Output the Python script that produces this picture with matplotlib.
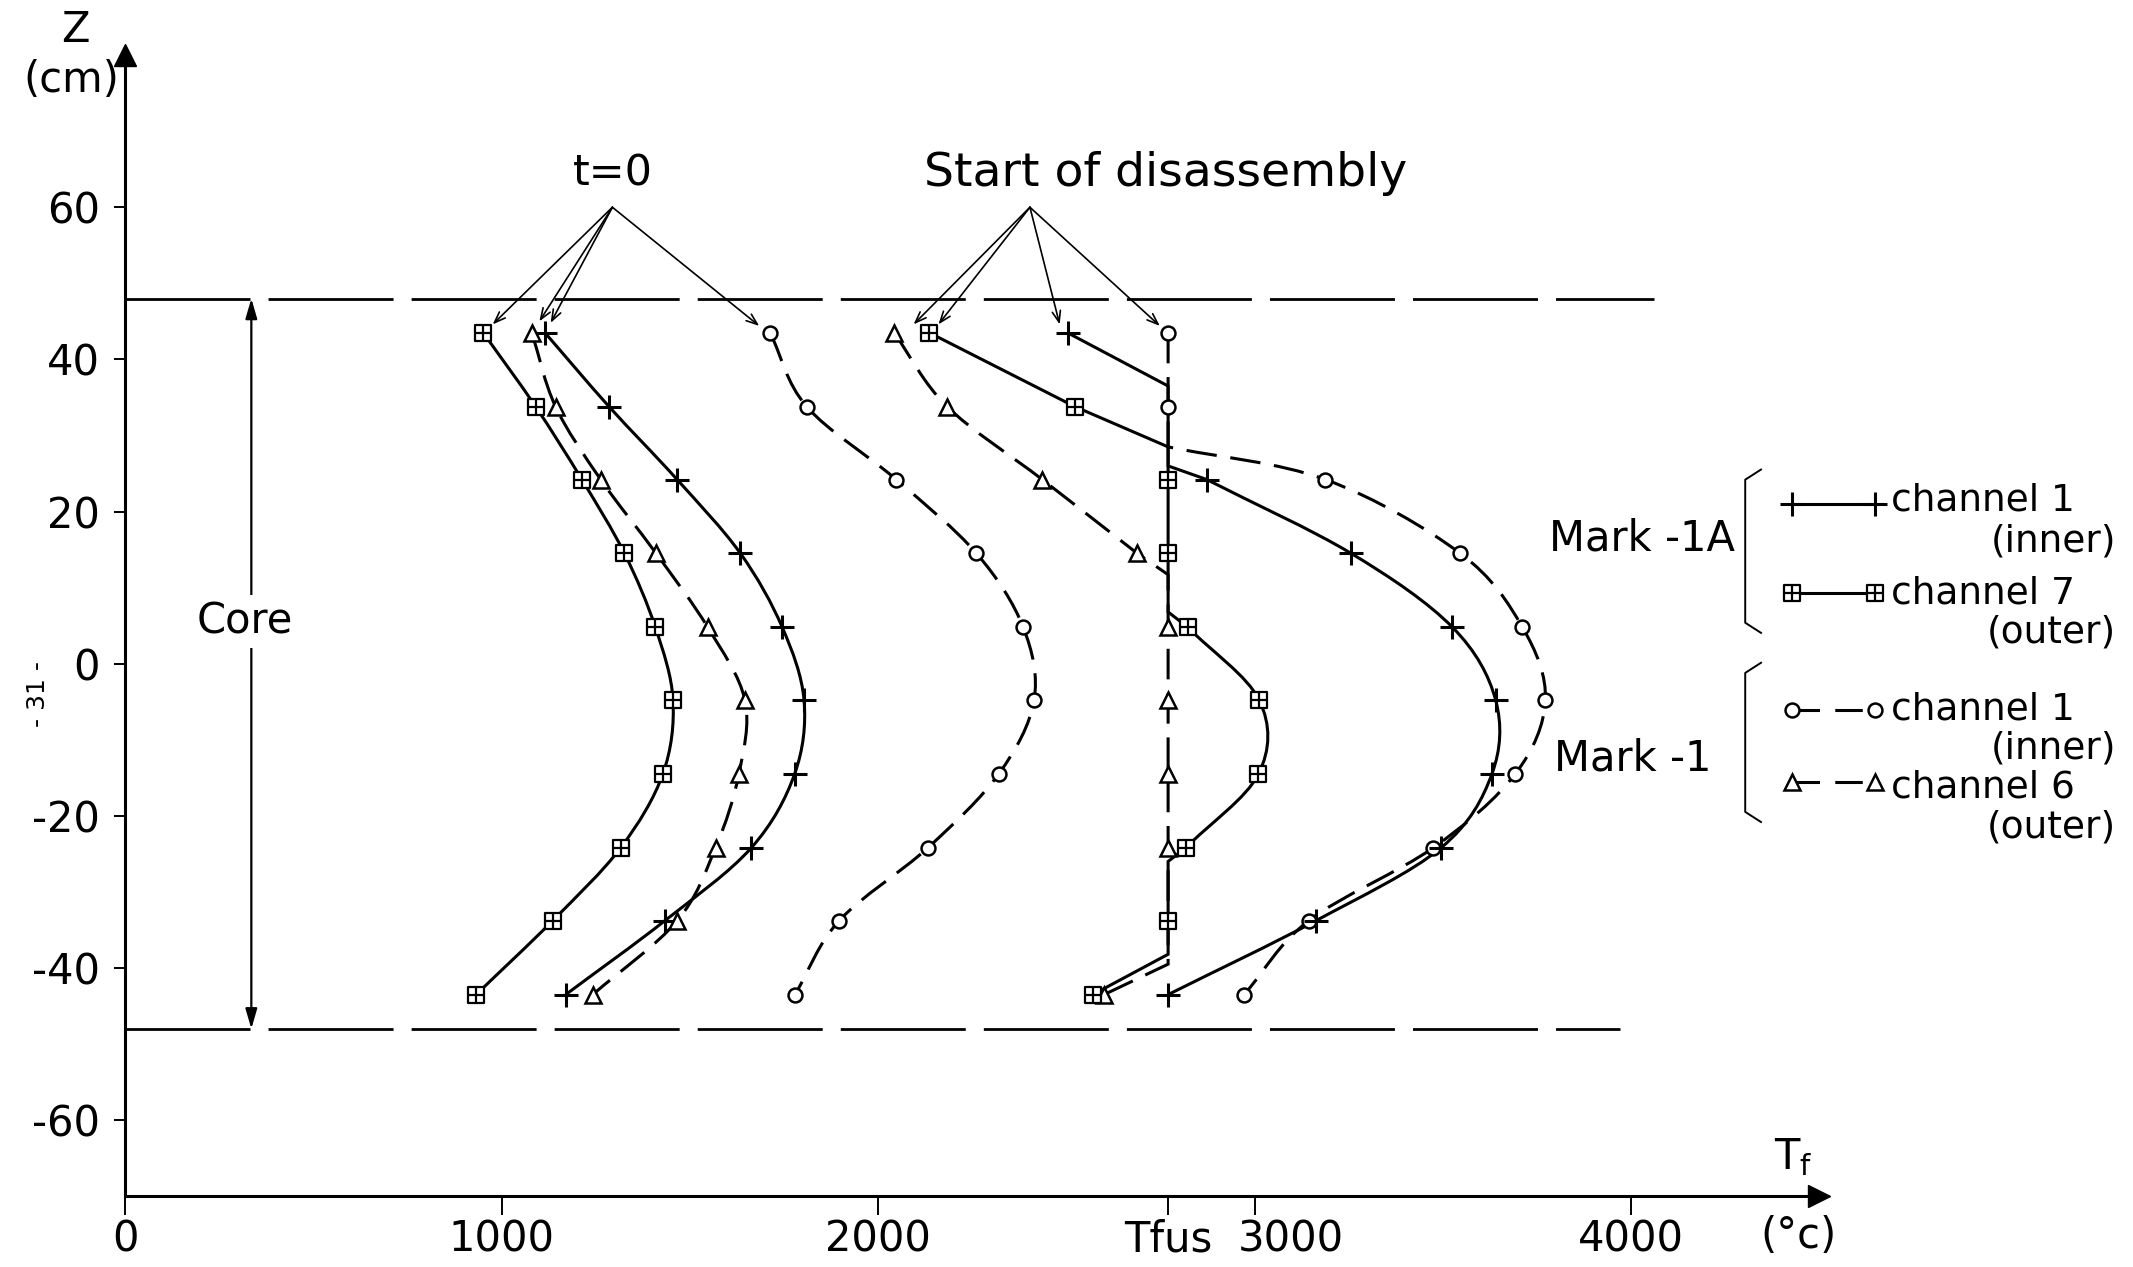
import matplotlib
matplotlib.use("Agg")
import matplotlib.pyplot as plt
import matplotlib.transforms as mtransforms
from matplotlib.path import Path
from matplotlib.patches import PathPatch
from matplotlib.lines import Line2D

plt.rcParams["font.family"] = ["DejaVu Sans"]

# fuel melting temperature (deg C)
TFUS = 2770

# axial measuring levels (cm)
z_levels = [43.5, 33.8, 24.2, 14.5, 4.8, -4.8, -14.5, -24.2, -33.8, -43.5]

# t = 0 profiles (deg C)
t0_mk1a_ch1 = [1115, 1285, 1466, 1634, 1745, 1803, 1778, 1663, 1433, 1170]
t0_mk1a_ch7 = [951, 1090, 1213, 1326, 1408, 1455, 1428, 1316, 1135, 932]
t0_mk1_ch1 = [1713, 1810, 2048, 2261, 2385, 2414, 2320, 2132, 1896, 1779]
t0_mk1_ch6 = [1080, 1143, 1263, 1410, 1547, 1646, 1630, 1568, 1466, 1242]

# start of disassembly: profiles follow Tfus between measuring levels
dis_mk1a_ch1_t = [2503, TFUS, TFUS, 2873, 3256, 3525, 3640, 3630, 3495, 3162, TFUS]
dis_mk1a_ch1_z = [43.5, 36.5, 26.0, 24.2, 14.5, 4.8, -4.8, -14.5, -24.2, -33.8, -43.5]
dis_mk1a_ch1_mk = [0, 3, 4, 5, 6, 7, 8, 9, 10]

dis_mk1a_ch7_t = [2136, 2522, TFUS, TFUS, TFUS, TFUS, 2822, 3012, 3010, 2817,
                  TFUS, TFUS, TFUS, 2570]
dis_mk1a_ch7_z = [43.5, 33.8, 28.5, 24.2, 14.5, 6.8, 4.8, -4.8, -14.5, -24.2,
                  -26.0, -33.8, -38.2, -43.5]
dis_mk1a_ch7_mk = [0, 1, 3, 4, 6, 7, 8, 9, 11, 13]

dis_mk1_ch1_t = [TFUS, TFUS, TFUS, 3188, 3546, 3711, 3772, 3692, 3474, 3143, 2972]
dis_mk1_ch1_z = [43.5, 33.8, 28.5, 24.2, 14.5, 4.8, -4.8, -14.5, -24.2, -33.8, -43.5]
dis_mk1_ch1_mk = [0, 1, 3, 4, 5, 6, 7, 8, 9, 10]

dis_mk1_ch6_t = [2042, 2183, 2436, 2688, TFUS, TFUS, TFUS, TFUS, TFUS, TFUS, 2600]
dis_mk1_ch6_z = [43.5, 33.8, 24.2, 14.5, 11.7, 4.8, -4.8, -14.5, -24.2, -39.5, -43.5]
dis_mk1_ch6_mk = [0, 1, 2, 3, 5, 6, 7, 8, 10]

core_top, core_bot = 48, -48

x_ticks = [0, 1000, 2000, TFUS, 3000, 4000]
x_ticklabels = ["0", "1000", "2000", "Tfus", "3000", "4000"]
y_ticks = [60, 40, 20, 0, -20, -40, -60]
y_ticklabels = ["60", "40", "20", "0", "-20", "-40", "-60"]


def curve_path(xs, ys, straight=()):
    """Path through the points, drawn as a smooth Bezier curve except on the
    segments listed in `straight` (segment i joins point i and i+1)."""
    n = len(xs)
    pts = list(zip(xs, ys))

    def tangent(i):
        smooth_before = i > 0 and (i - 1) not in straight
        smooth_after = i < n - 1 and i not in straight
        if smooth_before and smooth_after:
            return ((pts[i + 1][0] - pts[i - 1][0]) / 2, (pts[i + 1][1] - pts[i - 1][1]) / 2)
        if smooth_after:
            return (pts[i + 1][0] - pts[i][0], pts[i + 1][1] - pts[i][1])
        return (pts[i][0] - pts[i - 1][0], pts[i][1] - pts[i - 1][1])

    verts = [pts[0]]
    codes = [Path.MOVETO]
    for i in range(n - 1):
        if i in straight:
            verts.append(pts[i + 1])
            codes.append(Path.LINETO)
            continue
        m0, m1 = tangent(i), tangent(i + 1)
        verts += [(pts[i][0] + m0[0] / 3, pts[i][1] + m0[1] / 3),
                  (pts[i + 1][0] - m1[0] / 3, pts[i + 1][1] - m1[1] / 3),
                  pts[i + 1]]
        codes += [Path.CURVE4] * 3
    return Path(verts, codes)


# square with a cross inside
sq_path = Path(
    [(-1, -1), (1, -1), (1, 1), (-1, 1), (-1, -1), (0, -1), (0, 1), (-1, 0), (1, 0)],
    [Path.MOVETO, Path.LINETO, Path.LINETO, Path.LINETO, Path.CLOSEPOLY,
     Path.MOVETO, Path.LINETO, Path.MOVETO, Path.LINETO],
)

LW = 2.2
DASH = (10, 4.5)
line_st = {
    "mk1a_ch1": dict(lw=LW, ls="-"),
    "mk1a_ch7": dict(lw=LW, ls="-"),
    "mk1_ch1": dict(lw=LW, ls=(0, DASH)),
    "mk1_ch6": dict(lw=LW, ls=(0, DASH)),
}
mark_st = {
    "mk1a_ch1": dict(marker="+", ms=17, mew=2.2),
    "mk1a_ch7": dict(marker=sq_path, ms=11, mew=1.6, mfc="white"),
    "mk1_ch1": dict(marker="o", ms=10, mew=1.8, mfc="white"),
    "mk1_ch6": dict(marker="^", ms=12, mew=1.8, mfc="white"),
}

fig = plt.figure(figsize=(21.33, 12.67), dpi=100)
ax = fig.add_axes([0.0587, 0.0559, 0.7943, 0.9006])
ax.set_xlim(0, 4500)
ax.set_ylim(-70, 80)


def draw_profile(name, ts, zs, mk=None, straight=()):
    ax.add_patch(PathPatch(curve_path(ts, zs, straight), fill=False, ec="k",
                           capstyle="butt", **line_st[name]))
    if mk is None:
        mk = range(len(ts))
    ax.plot([ts[i] for i in mk], [zs[i] for i in mk], ls="none", color="k",
            **mark_st[name])


# t = 0 curves
draw_profile("mk1a_ch1", t0_mk1a_ch1, z_levels)
draw_profile("mk1a_ch7", t0_mk1a_ch7, z_levels)
draw_profile("mk1_ch1", t0_mk1_ch1, z_levels)
draw_profile("mk1_ch6", t0_mk1_ch6, z_levels)

# start of disassembly curves
draw_profile("mk1_ch6", dis_mk1_ch6_t, dis_mk1_ch6_z, dis_mk1_ch6_mk,
             straight=(3, 4, 5, 6, 7, 8, 9))
draw_profile("mk1_ch1", dis_mk1_ch1_t, dis_mk1_ch1_z, dis_mk1_ch1_mk,
             straight=(0, 1))
draw_profile("mk1a_ch1", dis_mk1a_ch1_t, dis_mk1a_ch1_z, dis_mk1a_ch1_mk,
             straight=(0, 1, 2))
draw_profile("mk1a_ch7", dis_mk1a_ch7_t, dis_mk1a_ch7_z, dis_mk1a_ch7_mk,
             straight=(0, 1, 2, 3, 4, 5, 9, 10, 11, 12))

# core boundaries
ax.plot([0, 4060], [core_top, core_top], color="k", lw=2.0, dashes=(45, 6.5))
ax.plot([0, 3970], [core_bot, core_bot], color="k", lw=2.0, dashes=(45, 6.5))
ax.annotate("", xy=(335, core_top), xytext=(335, core_bot),
            arrowprops=dict(arrowstyle="<|-|>,head_length=1.2,head_width=0.35",
                            color="k", lw=1.6, shrinkA=0, shrinkB=0))
ax.text(318, 5.5, "Core", fontsize=30, ha="center", va="center",
        bbox=dict(fc="white", ec="none", pad=4))

# pointer arrows to the first point of each profile
arrow_kw = dict(arrowstyle="->,head_length=0.8,head_width=0.3", color="k", lw=1.2,
                shrinkA=0, shrinkB=0)
t0_src = (1294, 60)
for tip in [(976, 44.6), (1100, 45.0), (1130, 44.8), (1684, 44.4)]:
    ax.annotate("", xy=tip, xytext=t0_src, arrowprops=arrow_kw)
dis_src = (2403, 60)
for tip in [(2094, 44.6), (2160, 44.6), (2482, 44.6), (2748, 44.4)]:
    ax.annotate("", xy=tip, xytext=dis_src, arrowprops=arrow_kw)
ax.text(1294, 64.5, "t=0", fontsize=31, ha="center", va="center")
ax.text(2764, 64.5, "Start of disassembly", fontsize=34, ha="center", va="center")

# axes with arrow heads
for s in ["top", "right"]:
    ax.spines[s].set_visible(False)
for s in ["left", "bottom"]:
    ax.spines[s].set_linewidth(2.2)
ax.plot(0, 1, marker="^", ms=16, color="k", transform=ax.transAxes, clip_on=False)
ax.plot(1, 0, marker=">", ms=16, color="k", transform=ax.transAxes, clip_on=False)

ax.set_xticks(x_ticks)
ax.set_xticklabels(x_ticklabels)
ax.set_yticks(y_ticks)
ax.set_yticklabels(y_ticklabels)
ax.tick_params(axis="x", direction="out", length=14, width=1.4, labelsize=30, pad=2)
ax.tick_params(axis="y", direction="out", length=8, width=1.4, labelsize=30, pad=10)
# keep the 3000 label clear of Tfus
shift = mtransforms.ScaledTranslation(26 / 72, 0, fig.dpi_scale_trans)
lab3000 = ax.get_xticklabels()[4]
lab3000.set_transform(lab3000.get_transform() + shift)

fig.text(0.0355, 0.9764, "Z", fontsize=30, ha="center", va="center")
fig.text(0.0336, 0.9366, "(cm)", fontsize=30, ha="center", va="center")
fig.text(0.8406, 0.087, r"T$_\mathregular{f}$", fontsize=30, ha="center", va="center")
fig.text(0.8430, 0.0247, "(°c)", fontsize=30, ha="center", va="center")
fig.text(0.018, 0.452, "- 31 -", fontsize=18, rotation=90, ha="center", va="center")

# key
key = [
    ("mk1a_ch1", 0.6026, "channel 1", 0.6047, "(inner)", 0.5725),
    ("mk1a_ch7", 0.5317, "channel 7", 0.5317, "(outer)", 0.5005),
    ("mk1_ch1", 0.4393, "channel 1", 0.4404, "(inner)", 0.4092),
    ("mk1_ch6", 0.3824, "channel 6", 0.3781, "(outer)", 0.3469),
]
for name, ly, lab1, y1, lab2, y2 in key:
    ls = line_st[name]["ls"]
    if ls != "-":
        ls = (0, (9, 5))
    fig.add_artist(Line2D([0.840, 0.879], [ly, ly], transform=fig.transFigure,
                          color="k", lw=LW, ls=ls, **mark_st[name]))
    fig.text(0.8865, y1, lab1, fontsize=27, ha="left", va="center")
    fig.text(0.9920, y2, lab2, fontsize=27, ha="right", va="center")

for top, bot in [(0.6294, 0.5005), (0.4769, 0.3512)]:
    fig.add_artist(Line2D([0.8256, 0.8182, 0.8182, 0.8256],
                          [top, top - 0.008, bot + 0.008, bot],
                          transform=fig.transFigure, color="k", lw=1.4))
fig.text(0.7698, 0.5746, "Mark -1A", fontsize=30, ha="center", va="center")
fig.text(0.7653, 0.4017, "Mark -1", fontsize=30, ha="center", va="center")

fig.savefig("out.png", dpi=100)
